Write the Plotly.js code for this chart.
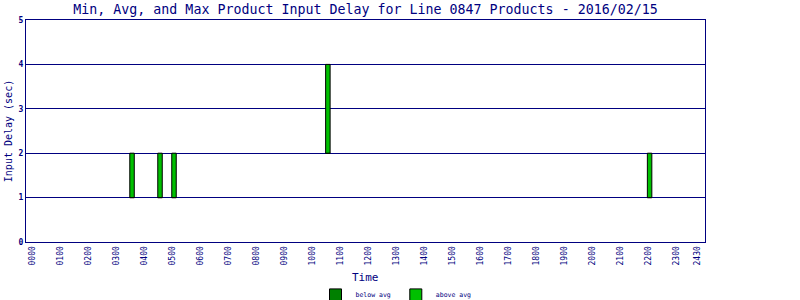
<!DOCTYPE html>
<html>
<head>
<meta charset="utf-8">
<script src="https://cdn.plot.ly/plotly-3.0.1.min.js"></script>
<style>
  html, body { margin: 0; padding: 0; background: #fff; }
  #chart { width: 800px; height: 300px; }
</style>
</head>
<body>
<div id="chart"></div>
<script>
// Time of day in decimal hours for each 10-minute bin with data
const times = [3.55, 4.55, 5.05, 10.55, 22.05];
const minDelay = [1, 1, 1, 2, 1];
const avgDelay = [1, 1, 1, 2, 1];
const maxDelay = [2, 2, 2, 4, 2];

// x-axis tick labels and their positions (hours)
const tickLabels = ["0000","0100","0200","0300","0400","0500","0600","0700","0800","0900","1000","1100",
                    "1200","1300","1400","1500","1600","1700","1800","1900","2000","2100","2200","2300","2430"];
const tickHours = [0,1,2,3,4,5,6,7,8,9,10,11,12,13,14,15,16,17,18,19,20,21,22,23,23.75];

const yTicks = [0, 1, 2, 3, 4, 5];

const navy = '#000080';
const mono = '"DejaVu Sans Mono", "Liberation Mono", monospace';

const belowH = avgDelay.map((a, i) => a - minDelay[i]);
const aboveH = maxDelay.map((m, i) => m - avgDelay[i]);

const traces = [
  {
    type: 'bar', name: 'below avg',
    x: times, y: belowH, base: minDelay,
    width: 0.16,
    marker: { color: '#008000', line: { color: '#000000', width: 1 } },
    hoverinfo: 'skip'
  },
  {
    type: 'bar', name: 'above avg',
    x: times, y: aboveH, base: avgDelay,
    width: 0.16,
    marker: { color: '#00c000', line: { color: '#000000', width: 1 } },
    hoverinfo: 'skip'
  }
];

const layout = {
  width: 800, height: 300,
  margin: { l: 26, r: 95, t: 20, b: 58, pad: 0 },
  paper_bgcolor: '#ffffff', plot_bgcolor: '#ffffff',
  barmode: 'overlay',
  showlegend: true,
  title: {
    text: 'Min, Avg, and Max Product Input Delay for Line 0847 Products - 2016/02/15',
    font: { family: mono, size: 13.3, color: navy },
    xref: 'paper', x: 0.5, xanchor: 'center',
    yref: 'container', y: 0.97, yanchor: 'middle'
  },
  xaxis: {
    range: [-0.24, 24.03],
    tickmode: 'array', tickvals: tickHours, ticktext: tickLabels,
    tickangle: -90,
    tickfont: { family: mono, size: 8, color: navy },
    ticks: '', ticklen: 0,
    showgrid: false, zeroline: false,
    showline: true, linecolor: navy, linewidth: 1, mirror: true,
    automargin: false,
    fixedrange: true
  },
  yaxis: {
    range: [0, 5],
    tickmode: 'array', tickvals: yTicks, ticktext: yTicks.map(String),
    tickfont: { family: mono, size: 8, color: navy, weight: 'bold' },
    ticks: '', ticklen: 0,
    showgrid: true, gridcolor: navy, gridwidth: 1,
    zeroline: false,
    showline: true, linecolor: navy, linewidth: 1, mirror: true,
    title: { text: 'Input Delay (sec)', font: { family: mono, size: 10, color: navy }, standoff: 4 },
    automargin: false,
    fixedrange: true
  },
  annotations: [{
    text: 'Time', showarrow: false,
    xref: 'paper', x: 0.5, xanchor: 'center',
    yref: 'paper', y: -0.162, yanchor: 'middle',
    font: { family: mono, size: 11, color: navy }
  }],
  legend: {
    orientation: 'h',
    xref: 'container', x: 0.495, xanchor: 'center',
    yref: 'container', y: 0.017, yanchor: 'middle',
    font: { family: mono, size: 6.5, color: navy },
    itemwidth: 30,
    bgcolor: 'rgba(0,0,0,0)'
  }
};

Plotly.newPlot('chart', traces, layout, { displayModeBar: false, staticPlot: true });
</script>
</body>
</html>
